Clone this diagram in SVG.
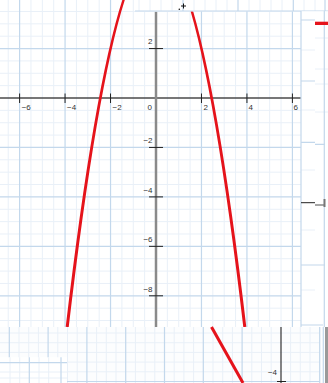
<svg xmlns="http://www.w3.org/2000/svg" width="328" height="383" viewBox="0 0 328 383">
<style>
.bg{fill:#ffffff}
.minor{stroke:#e9f0f8;stroke-width:1;fill:none}
.major{stroke:#c3d8ec;stroke-width:1.2;fill:none}
.tick{stroke:#222;stroke-width:1;fill:none}
.lbl{font-family:"Liberation Sans",Arial,sans-serif;font-size:8px;fill:#333}
.curve{stroke:#e5131b;stroke-width:3;fill:none;stroke-linecap:butt}
</style>
<g id="main-panel">
<rect class="bg" x="0" y="0" width="301" height="327"/>
<path class="minor" d="M8.23 0V327M30.96 0V327M42.33 0V327M53.7 0V327M76.43 0V327M87.8 0V327M99.17 0V327M121.9 0V327M133.27 0V327M144.63 0V327M167.37 0V327M178.73 0V327M190.1 0V327M212.84 0V327M224.2 0V327M235.57 0V327M258.3 0V327M269.67 0V327M281.04 0V327
M0 11.46H301M0 23.83H301M0 36.19H301M0 60.91H301M0 73.28H301M0 85.64H301M0 110.36H301M0 122.73H301M0 135.09H301M0 159.81H301M0 172.18H301M0 184.54H301M0 209.26H301M0 221.63H301M0 233.99H301M0 258.71H301M0 271.08H301M0 283.44H301M0 308.16H301M0 320.53H301"/>
<path class="major" d="M19.6 0V327M65.06 0V327M110.53 0V327M201.47 0V327M246.94 0V327M292.41 0V327
M0 48.55H301M0 147.45H301M0 196.9H301M0 246.35H301M0 295.8H301"/>
<line x1="0" y1="98" x2="301" y2="98" stroke="#4a4a4a" stroke-width="1.5"/>
<line x1="156" y1="11.7" x2="156" y2="327" stroke="#8a8a8a" stroke-width="2.5"/>
<path class="tick" d="M19.6 93.5V103M65.06 93.5V103M110.53 93.5V103M201.47 93.5V103M246.94 93.5V103M292.41 93.5V103
M149 48.55H163M149 147.45H163M149 196.9H163M149 246.35H163M149 295.8H163"/>
<text class="lbl" x="21.7" y="110">−6</text>
<text class="lbl" x="67" y="110">−4</text>
<text class="lbl" x="112.5" y="110">−2</text>
<text class="lbl" x="147.5" y="110">0</text>
<text class="lbl" x="203.5" y="110">2</text>
<text class="lbl" x="248.5" y="110">4</text>
<text class="lbl" x="293.5" y="110">6</text>
<text class="lbl" x="152.5" y="44" text-anchor="end">2</text>
<text class="lbl" x="152.5" y="143" text-anchor="end">−2</text>
<text class="lbl" x="152.5" y="193" text-anchor="end">−4</text>
<text class="lbl" x="152.5" y="242" text-anchor="end">−6</text>
<text class="lbl" x="152.5" y="292" text-anchor="end">−8</text>
<path class="curve" d="M67.2 327Q156 -427.7 244.8 327"/>
</g>
<g id="top-strip">
<rect class="bg" x="135" y="0" width="193" height="11.3"/>
<path class="minor" d="M139 0V11M150 0V11M161 0V11M172 0V11M194 0V11M205 0V11M216 0V11M227 0V11M249 0V11M260 0V11M271 0V11M282 0V11M304 0V11M315 0V11"/>
<path class="major" d="M183 0V11M238 0V11M293.3 0V11M325 0V11M135 11H328"/>
<path d="M181 6H186M183.5 3.5V8.5" stroke="#111" stroke-width="1"/>
<circle cx="179.3" cy="9.3" r="0.8" fill="#111"/>
</g>
<g id="right-strip">
<rect class="bg" x="301" y="11.3" width="27" height="315.7"/>
<path class="minor" d="M315 38H328M315 69H328M315 84H328M315 112H328M301 50H315M301 110H315M301 170H315M301 230H315M301 290H315"/>
<path class="major" d="M301 11V327M324.3 11V327M301 20H315M301 81H315M301 142.3H315M315 144.3H325M301 265H325M301 325H323"/>
<rect x="315" y="21.7" width="13" height="3.3" fill="#e5131b"/>
<line x1="301" y1="202.7" x2="315" y2="202.7" stroke="#222" stroke-width="1"/>
<line x1="315" y1="205" x2="324" y2="205" stroke="#888" stroke-width="1.5"/>
<line x1="324.5" y1="199" x2="324.5" y2="207" stroke="#777" stroke-width="2"/>
</g>
<g id="bottom-panel">
<rect x="0" y="327" width="328" height="56" fill="#fcfdfe"/>
<path class="minor" d="M19 327V383M28.7 327V383M38.4 327V383M57.8 327V383M67.5 327V383M77.2 327V383M96.6 327V383M106.3 327V383M116 327V383M135.4 327V383M145.1 327V383M154.8 327V383M174.2 327V383M183.9 327V383M193.6 327V383M213 327V383M222.7 327V383M232.4 327V383M251.8 327V383M261.5 327V383M271.2 327V383M290.6 327V383M300.3 327V383M310 327V383
M0 333H320M0 342.7H320M0 352.4H320M0 362.1H320M0 371.8H320"/>
<path class="major" d="M9.3 327V383M48.1 327V383M86.9 327V383M125.7 327V383M164.5 327V383M203.3 327V383M242.1 327V383M319.7 327V383M323.3 327V383M0 381.5H320"/>
<rect x="325" y="327" width="3" height="56" fill="#9a9a9a"/>
<line x1="211.5" y1="327" x2="243" y2="383" class="curve"/>
<line x1="281" y1="327" x2="281" y2="383" stroke="#333" stroke-width="1.2"/>
<line x1="277" y1="381.5" x2="286" y2="381.5" stroke="#222" stroke-width="1"/>
<text class="lbl" x="277" y="375" text-anchor="end">−4</text>
</g>
<g id="bottom-left-panel">
<rect class="bg" x="0" y="357.3" width="67" height="25.7"/>
<path class="minor" d="M10 357.3V383M19.7 357.3V383M39 357.3V383M48.7 357.3V383M0 372H67M0 378H67"/>
<path class="major" d="M0 362.7H67M29.3 357.3V383M61 357.3V383"/>
</g>
</svg>
